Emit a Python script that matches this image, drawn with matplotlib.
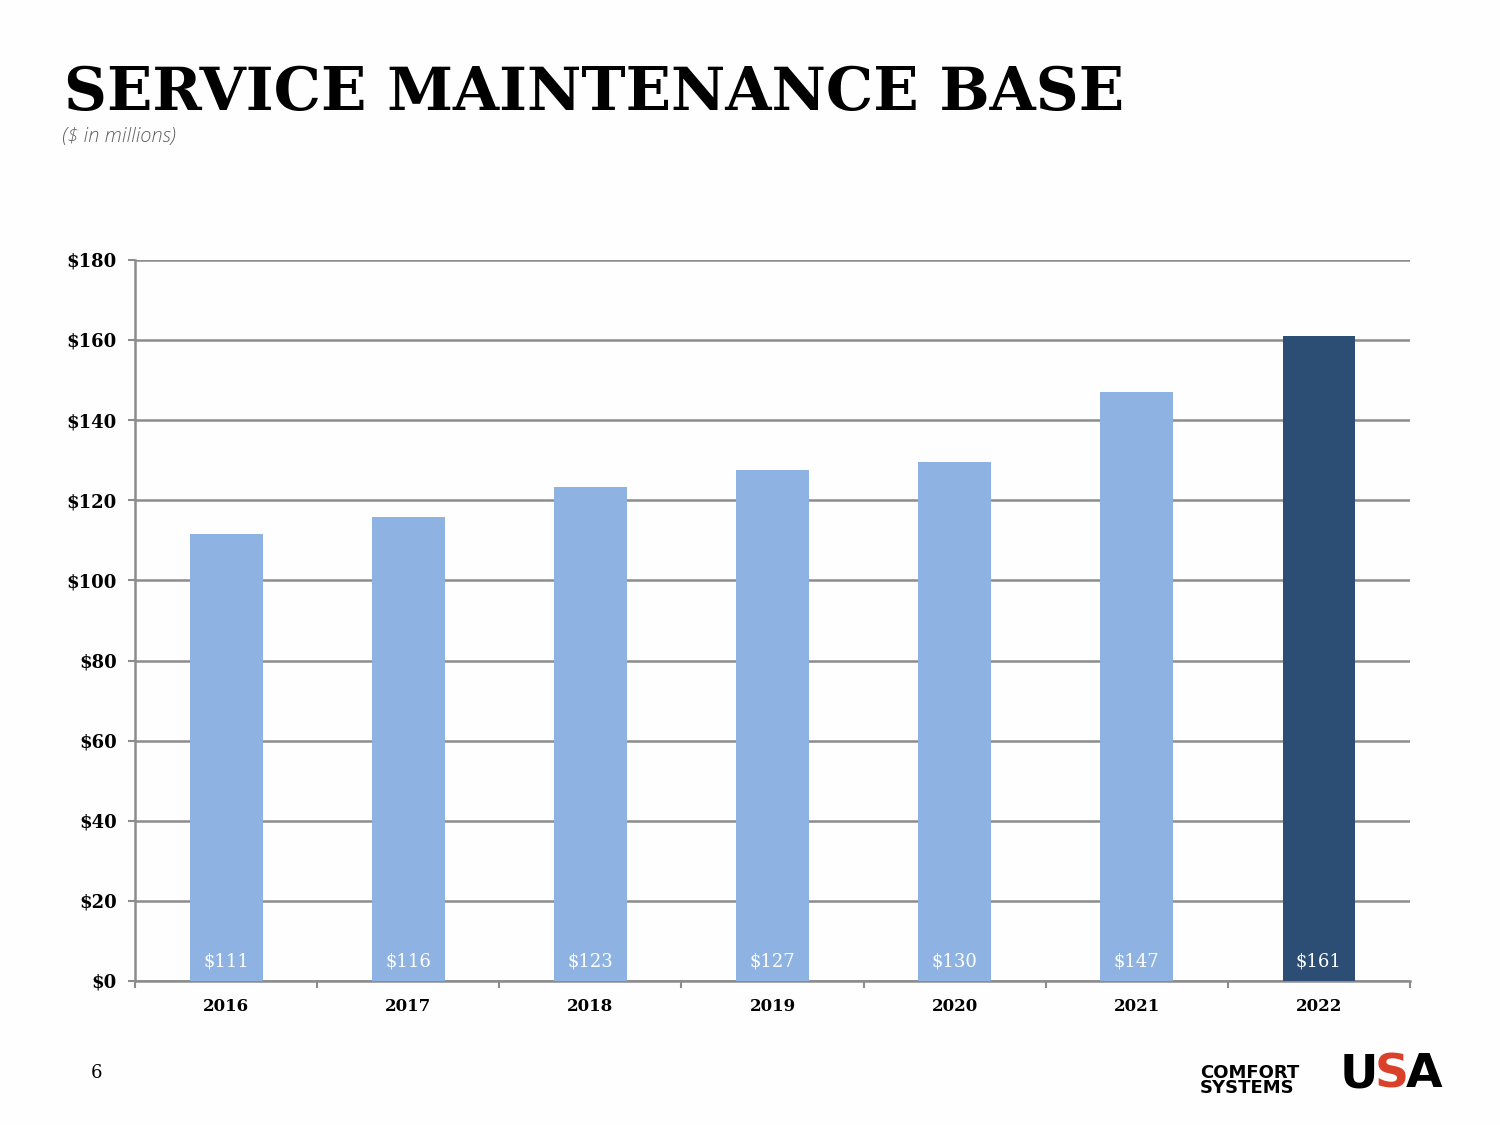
import matplotlib
matplotlib.use("Agg")
import matplotlib.pyplot as plt
import numpy as np

years = ["2016", "2017", "2018", "2019", "2020", "2021", "2022"]
values = [111.5, 115.8, 123.3, 127.5, 129.5, 147.0, 161.0]
value_labels = ["$111", "$116", "$123", "$127", "$130", "$147", "$161"]
y_ticks = [0, 20, 40, 60, 80, 100, 120, 140, 160, 180]
y_tick_labels = ["$" + str(v) for v in y_ticks]

light = "#8EB3E2"
dark = "#2C4D74"
colors = [light] * 6 + [dark]

fig = plt.figure(figsize=(15, 11.25), dpi=100)
fig.patch.set_facecolor("#FEFEFE")
ax = fig.add_axes([0.09, 0.128, 0.85, 0.641])
ax.set_facecolor("none")

x = np.arange(len(years))
bars = ax.bar(x, values, width=0.4, color=colors, zorder=3)
ax.set_xlim(-0.5, len(years) - 0.5)
ax.set_ylim(0, 180)

for xi, lab in zip(x, value_labels):
    ax.text(xi, 4.8, lab, ha="center", va="center", color="white",
            fontsize=13, family="DejaVu Serif", zorder=4)

ax.set_yticks(y_ticks)
ax.set_yticklabels(y_tick_labels, family="DejaVu Serif", fontsize=13, weight="bold")
ax.yaxis.grid(True, color="#8C8C8C", linewidth=1.8, zorder=1)
ax.set_xticks(x)
ax.set_xticklabels(years, family="DejaVu Serif", fontsize=12, weight="bold")
ax.set_xticks(np.arange(-0.5, len(years)), minor=True)
ax.tick_params(axis="x", which="major", length=0, pad=12)
ax.tick_params(axis="x", which="minor", length=5, color="#8C8C8C", width=1.5)
ax.tick_params(axis="y", length=5, color="#8C8C8C", width=1.5, pad=8)
for s in ["top", "right"]:
    ax.spines[s].set_visible(False)
for s in ["left", "bottom"]:
    ax.spines[s].set_color("#8C8C8C")
    ax.spines[s].set_linewidth(1.8)

fig.text(0.043, 0.902, "SERVICE MAINTENANCE BASE", family="DejaVu Serif",
         weight="bold", fontsize=42.8, color="black", va="baseline", ha="left")
fig.text(0.041, 0.874, "($ in millions)", family="Open Sans", style="italic",
         weight="light", fontsize=14.5, color="#5E5E5E", va="baseline", ha="left")
fig.text(0.064, 0.046, "6", family="DejaVu Serif", fontsize=13, ha="center", va="center")

# logo approximation
fig.text(0.800, 0.0245, "COMFORT\nSYSTEMS", family="DejaVu Sans", weight="heavy",
         fontsize=13, ha="left", va="bottom", linespacing=0.85)
renderer = fig.canvas.get_renderer()
xpos = 0.893
for ch, col in [("U", "black"), ("S", "#D9412B"), ("A", "black")]:
    t = fig.text(xpos, 0.0245, ch, family="DejaVu Sans", weight="heavy",
                 fontsize=34, ha="left", va="bottom", color=col)
    bb = t.get_window_extent(renderer)
    xpos += bb.width / fig.bbox.width - 0.002

fig.savefig("out.png", dpi=100, facecolor=fig.get_facecolor())
